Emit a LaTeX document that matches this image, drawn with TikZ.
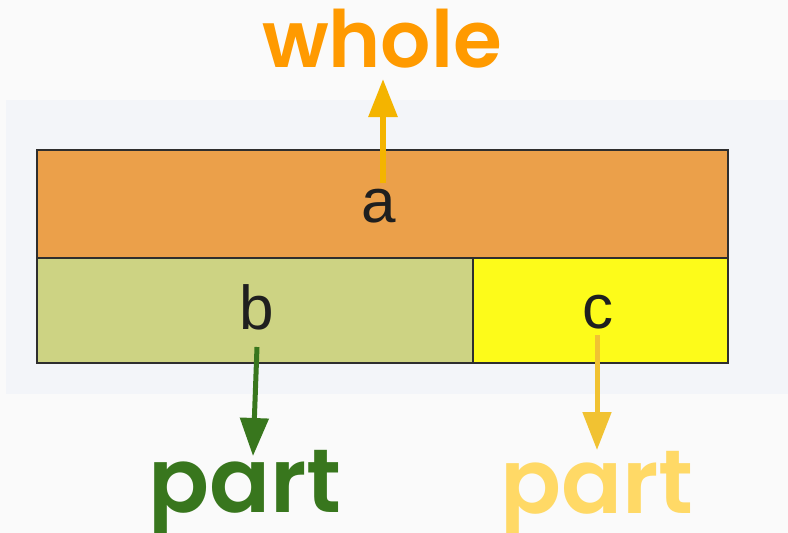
\documentclass[tikz,border=0pt]{standalone}
\usepackage{fontspec}
\setmainfont{Liberation Sans}
\newfontfamily\geofont{Poppins}[BoldFont={Poppins SemiBold}]
\usetikzlibrary{arrows.meta}

\definecolor{pagebg}{HTML}{FAFAFA}
\definecolor{panelbg}{HTML}{F3F5F9}
\definecolor{cellA}{HTML}{EBA04A}
\definecolor{cellB}{HTML}{CDD383}
\definecolor{cellC}{HTML}{FDFB1A}
\definecolor{edge}{HTML}{2E2E2E}
\definecolor{wholetext}{HTML}{FF9A00}
\definecolor{wholearrow}{HTML}{F4B400}
\definecolor{partgreen}{HTML}{38761D}
\definecolor{partyellowarrow}{HTML}{F1C232}
\definecolor{partyellow}{HTML}{FFD966}

\tikzset{
  cell/.style={draw=edge, line width=2.4pt, rectangle, inner sep=0pt, outer sep=0pt},
  letter/.style={anchor=base, inner sep=0pt, font=\fontsize{62}{62}\selectfont, text=black!88},
  bigword/.style={anchor=base, inner sep=0pt, font=\geofont\bfseries\fontsize{#1}{#1}\selectfont},
  pointer/.style={line width=#1, -{Triangle[length=38pt,width=28pt]}},
}

\begin{document}
\begin{tikzpicture}[x=1pt, y=-1pt]
  % page and panel backgrounds
  \fill[pagebg] (0,0) rectangle (788,533);
  \useasboundingbox (0,0) rectangle (788,533);
  \fill[panelbg] (6,100) rectangle (788,394);

  % bar model: whole on top, two parts below
  \node[cell, fill=cellA, minimum width=691pt, minimum height=108pt] (A) at (382.5,204) {};
  \node[cell, fill=cellB, minimum width=436pt, minimum height=105pt] (B) at (255,310.5) {};
  \node[cell, fill=cellC, minimum width=255pt, minimum height=105pt] (C) at (600.5,310.5) {};

  % cell letters
  \node[letter] (la) at (379,222) {a};
  \node[letter] (lb) at (257,329) {b};
  \node[letter] (lc) at (598,328) {c};

  % labels
  \node[bigword=79, text=wholetext] (whole) at (382,67) {whole};
  \node[bigword=90, text=partgreen] (partB) at (245,512) {part};
  \node[bigword=90, text=partyellow] (partC) at (597,513) {part};

  % arrow end points
  \coordinate (aTail) at (383,183);
  \coordinate (aHead) at (383,79);
  \coordinate (bTail) at (257,347);
  \coordinate (bHead) at (253,456);
  \coordinate (cTail) at (597,335);
  \coordinate (cHead) at (597,450);

  \draw[pointer=6pt, wholearrow] (aTail) -- (aHead);
  \draw[pointer=5pt, partgreen] (bTail) -- (bHead);
  \draw[pointer=5pt, partyellowarrow] (cTail) -- (cHead);
\end{tikzpicture}
\end{document}
